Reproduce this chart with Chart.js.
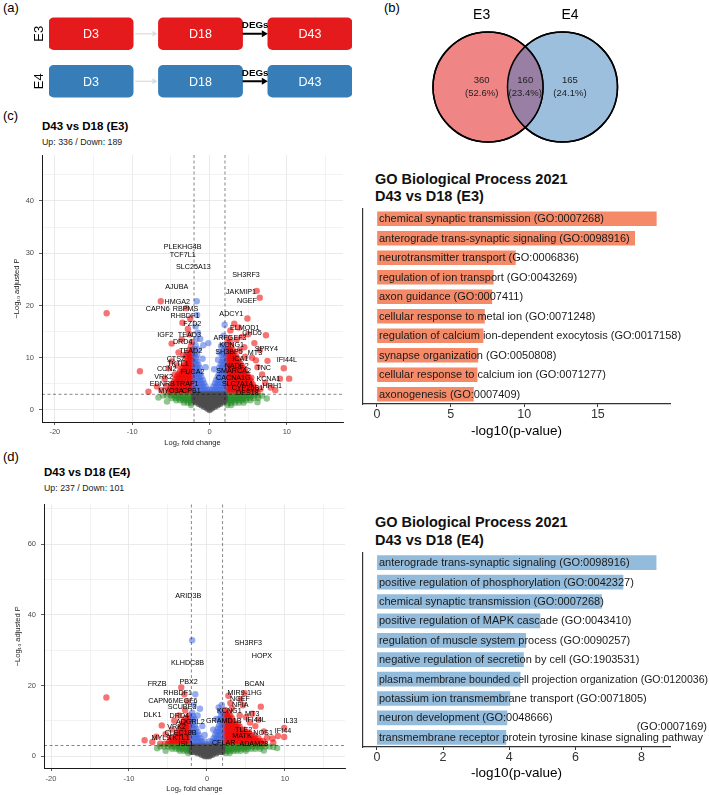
<!DOCTYPE html>
<html>
<head>
<meta charset="utf-8">
<script src="https://cdn.jsdelivr.net/npm/chart.js@4.4.1/dist/chart.umd.min.js"></script>
<style>
  body { margin: 0; background: #fff; font-family: "Liberation Sans", Arial, sans-serif; }
  #page { position: relative; width: 709px; height: 795px; overflow: hidden; }
  canvas { position: absolute; }
  .t { position: absolute; white-space: nowrap; color: #000; }
</style>
</head>
<body>
<div id="page">
  <div class="t" style="left:3px;top:0px;font-size:13px;line-height:16px">(a)</div>
  <div class="t" style="left:384px;top:0px;font-size:13px;line-height:16px">(b)</div>
  <div class="t" style="left:3px;top:108px;font-size:13px;line-height:16px">(c)</div>
  <div class="t" style="left:3px;top:449px;font-size:13px;line-height:16px">(d)</div>

  <div class="t" id="titleC" style="left:42px;top:119px;font-size:11.5px;line-height:14px;font-weight:bold"></div>
  <div class="t" id="subC" style="left:42px;top:135.5px;font-size:8.8px;line-height:12px;color:#222"></div>
  <div class="t" id="titleD" style="left:44px;top:465px;font-size:11.5px;line-height:14px;font-weight:bold"></div>
  <div class="t" id="subD" style="left:44px;top:482px;font-size:8.8px;line-height:12px;color:#222"></div>

  <div class="t" style="left:375px;top:170.5px;font-size:14.5px;line-height:17px;font-weight:bold;color:#111">GO Biological Process 2021<br>D43 vs D18 (E3)</div>
  <div class="t" style="left:375px;top:513px;font-size:14.5px;line-height:18px;font-weight:bold;color:#111">GO Biological Process 2021<br>D43 vs D18 (E4)</div>

  <canvas id="flow" width="400" height="110" style="left:0;top:0"></canvas>
  <canvas id="venn" width="309" height="150" style="left:400px;top:0"></canvas>
  <canvas id="volC" width="360" height="310" style="left:0;top:140px"></canvas>
  <canvas id="goC" width="349" height="240" style="left:360px;top:205px"></canvas>
  <canvas id="volD" width="360" height="300" style="left:0;top:495px"></canvas>
  <canvas id="goD" width="349" height="247" style="left:360px;top:548px"></canvas>
</div>

<script>
const FONT = '"Liberation Sans", Arial, sans-serif';

// (a) design
const lineNames = ['E3', 'E4'];
const stageNames = ['D3', 'D18', 'D43'];
const stageSpans = [[0, 1], [1.3, 2.3], [2.6, 3.6]];
const lineColors = ['#E41A1C', '#377EB8'];

// (b) overlap of DEGs
const vennSets = ['E3', 'E4'];
const vennCounts = [360, 160, 165];
const vennPercents = ['52.6%', '23.4%', '24.1%'];

// volcano cut-offs
const fcCut = 2;
const padjCut = 3;

// (c) D43 vs D18 (E3)  -- points are [log2FC, -log10 padj]
const upDownC = [336, 189];
const nsC = [[0,0],[-0.3,0.3],[0,0.3],[0.3,0.3],[0,0.6],[-0.35,0.6],[0.35,0.6],[-0.7,0.6],[0.7,0.6],[0,0.9],[-0.35,0.9],[0.35,0.9],[-0.7,0.9],[0.7,0.9],[-1.05,0.9],[1.05,0.9],[0,1.2],[-0.35,1.2],[0.35,1.2],[-0.7,1.2],[0.7,1.2],[-1.05,1.2],[1.05,1.2],[-1.4,1.2],[1.4,1.2],[0,1.5],[-0.35,1.5],[0.35,1.5],[-0.7,1.5],[0.7,1.5],[-1.05,1.5],[1.05,1.5],[-1.4,1.5],[1.4,1.5],[-1.75,1.5],[1.75,1.5],[0,1.8],[-0.4,1.8],[0.4,1.8],[-0.8,1.8],[0.8,1.8],[-1.2,1.8],[1.2,1.8],[-1.6,1.8],[1.6,1.8],[-1.95,1.8],[1.95,1.8],[0,2.1],[-0.4,2.1],[0.4,2.1],[-0.8,2.1],[0.8,2.1],[-1.2,2.1],[1.2,2.1],[-1.6,2.1],[1.6,2.1],[-1.95,2.1],[1.95,2.1],[0,2.4],[-0.4,2.4],[0.4,2.4],[-0.8,2.4],[0.8,2.4],[-1.2,2.4],[1.2,2.4],[-1.6,2.4],[1.6,2.4],[-1.95,2.4],[1.95,2.4],[0,2.7],[-0.4,2.7],[0.4,2.7],[-0.8,2.7],[0.8,2.7],[-1.2,2.7],[1.2,2.7],[-1.6,2.7],[1.6,2.7],[-1.95,2.7],[1.95,2.7],[-0.2,2.95],[0.2,2.95],[-0.6,2.95],[0.6,2.95],[-1,2.95],[1,2.95],[-1.4,2.95],[1.4,2.95],[-1.8,2.95],[1.8,2.95]];
const fcC = [[-2.2,2.75],[2.2,2.75],[-2.6,2.75],[2.6,2.75],[-3,2.75],[3,2.75],[-3.4,2.75],[3.4,2.75],[-3.8,2.75],[3.8,2.75],[-4.2,2.75],[4.2,2.75],[-4.6,2.75],[4.6,2.75],[-5,2.75],[5,2.75],[-5.5,2.75],[-6,2.75],[5.4,2.75],[5.8,2.75],[6.3,2.75],[6.8,2.75],[-2.4,2.3],[2.4,2.3],[-2.8,2.3],[2.8,2.3],[-3.2,2.3],[3.2,2.3],[-3.6,2.3],[3.6,2.3],[-4,2.3],[4,2.3],[-4.4,2.3],[4.4,2.3],[-4.9,2.3],[4.8,2.3],[5.2,2.3],[5.7,2.3],[6.3,2.3],[-2.2,1.85],[2.2,1.85],[-2.6,1.85],[2.6,1.85],[-3,1.85],[3,1.85],[-3.4,1.85],[3.4,1.85],[-3.8,1.85],[3.8,1.85],[-4.3,1.85],[4.2,1.85],[4.7,1.85],[5.3,1.85],[-2.4,1.4],[2.4,1.4],[-2.8,1.4],[2.8,1.4],[-3.3,1.4],[3.3,1.4],[3.8,1.4],[4.4,1.4],[2.3,0.95],[2.8,0.95],[-2.4,0.95],[-6.6,2.4],[7.4,2.2],[-5.5,1.6],[6.2,1.5]];
const pC = [[-1.9,3.3],[-1.55,3.3],[-1.2,3.3],[-0.85,3.3],[-0.5,3.3],[-0.15,3.3],[0.2,3.3],[0.55,3.3],[0.9,3.3],[1.25,3.3],[1.6,3.3],[1.9,3.3],[-1.75,3.9],[-1.4,3.9],[-1.05,3.9],[-0.7,3.9],[-0.35,3.9],[0,3.9],[0.35,3.9],[0.7,3.9],[1.05,3.9],[1.4,3.9],[1.75,3.9],[-1.9,4.5],[-1.55,4.5],[-1.2,4.5],[-0.85,4.5],[-0.5,4.5],[0.5,4.5],[0.85,4.5],[1.2,4.5],[1.55,4.5],[1.9,4.5],[-1.75,5.1],[-1.4,5.1],[-1.05,5.1],[-0.7,5.1],[0.7,5.1],[1.05,5.1],[1.4,5.1],[1.75,5.1],[-1.9,5.7],[-1.55,5.7],[-1.2,5.7],[-0.85,5.7],[0.85,5.7],[1.2,5.7],[1.55,5.7],[1.9,5.7],[-1.75,6.3],[-1.4,6.3],[-1.05,6.3],[1.05,6.3],[1.4,6.3],[1.75,6.3],[-1.9,6.9],[-1.55,6.9],[-1.2,6.9],[1.2,6.9],[1.55,6.9],[1.9,6.9],[-1.75,7.5],[-1.4,7.5],[1.4,7.5],[1.75,7.5],[-1.9,8.1],[-1.55,8.1],[-1.25,8.1],[1.25,8.1],[1.55,8.1],[1.9,8.1],[-1.75,8.7],[-1.45,8.7],[1.45,8.7],[1.75,8.7],[-1.9,9.3],[-1.6,9.3],[1.6,9.3],[1.9,9.3],[-1.75,9.9],[1.75,9.9],[-1.9,10.5],[-1.6,10.5],[1.6,10.5],[1.9,10.5],[-1.8,11.1],[1.8,11.1],[-1.9,11.7],[1.9,11.7],[-1.8,12.4],[1.85,12.4],[-1.65,20.8],[-1.6,18.2],[-1.8,16],[-1.5,14.8],[-1.2,13.6],[-1.7,13.6],[-0.8,12.4],[-1.4,11.6],[-0.15,12.8],[-0.9,9.8],[-0.5,8.2],[1.95,16.3],[1.5,12.2],[1.8,14.2],[1.1,9.6],[0.6,7.8],[1.3,11]];
const bothC = [[-2.2,3.4],[-2.6,3.4],[-3,3.4],[-3.4,3.4],[-3.8,3.4],[-4.2,3.4],[-4.6,3.4],[-5,3.4],[-5.4,3.4],[-2.4,3.9],[-2.8,3.9],[-3.2,3.9],[-3.6,3.9],[-4,3.9],[-4.4,3.9],[-4.8,3.9],[-5.2,3.9],[-2.2,4.4],[-2.6,4.4],[-3,4.4],[-3.4,4.4],[-3.8,4.4],[-4.2,4.4],[-4.6,4.4],[-5,4.4],[-2.4,4.9],[-2.8,4.9],[-3.2,4.9],[-3.6,4.9],[-4,4.9],[-4.4,4.9],[-4.8,4.9],[-2.2,5.4],[-2.6,5.4],[-3,5.4],[-3.4,5.4],[-3.8,5.4],[-4.2,5.4],[-4.6,5.4],[-2.4,5.9],[-2.8,5.9],[-3.2,5.9],[-3.6,5.9],[-4,5.9],[-4.4,5.9],[-2.2,6.4],[-2.6,6.4],[-3,6.4],[-3.4,6.4],[-3.8,6.4],[-4.2,6.4],[-2.4,6.9],[-2.8,6.9],[-3.2,6.9],[-3.6,6.9],[-4,6.9],[-2.2,7.4],[-2.6,7.4],[-3,7.4],[-3.4,7.4],[-3.8,7.4],[-2.4,7.9],[-2.8,7.9],[-3.2,7.9],[-3.6,7.9],[-2.2,8.4],[-2.6,8.4],[-3,8.4],[-3.4,8.4],[-2.4,8.9],[-2.8,8.9],[-3.2,8.9],[-2.2,9.4],[-2.6,9.4],[-3,9.4],[-2.4,9.9],[-2.8,9.9],[-2.2,10.4],[-2.6,10.4],[-3,10.4],[-2.4,10.9],[-2.8,10.9],[-2.2,11.5],[-2.6,11.5],[-2.4,12.2],[-2.3,13],[2.2,3.4],[2.6,3.4],[3,3.4],[3.4,3.4],[3.8,3.4],[4.2,3.4],[4.6,3.4],[5,3.4],[5.4,3.4],[5.8,3.4],[6.2,3.4],[2.4,3.9],[2.8,3.9],[3.2,3.9],[3.6,3.9],[4,3.9],[4.4,3.9],[4.8,3.9],[5.2,3.9],[5.6,3.9],[6,3.9],[2.2,4.4],[2.6,4.4],[3,4.4],[3.4,4.4],[3.8,4.4],[4.2,4.4],[4.6,4.4],[5,4.4],[5.4,4.4],[5.8,4.4],[2.4,4.9],[2.8,4.9],[3.2,4.9],[3.6,4.9],[4,4.9],[4.4,4.9],[4.8,4.9],[5.2,4.9],[5.6,4.9],[2.2,5.4],[2.6,5.4],[3,5.4],[3.4,5.4],[3.8,5.4],[4.2,5.4],[4.6,5.4],[5,5.4],[5.4,5.4],[2.4,5.9],[2.8,5.9],[3.2,5.9],[3.6,5.9],[4,5.9],[4.4,5.9],[4.8,5.9],[5.2,5.9],[2.2,6.4],[2.6,6.4],[3,6.4],[3.4,6.4],[3.8,6.4],[4.2,6.4],[4.6,6.4],[5,6.4],[2.4,6.9],[2.8,6.9],[3.2,6.9],[3.6,6.9],[4,6.9],[4.4,6.9],[4.8,6.9],[2.2,7.4],[2.6,7.4],[3,7.4],[3.4,7.4],[3.8,7.4],[4.2,7.4],[4.6,7.4],[2.4,7.9],[2.8,7.9],[3.2,7.9],[3.6,7.9],[4,7.9],[4.4,7.9],[2.2,8.4],[2.6,8.4],[3,8.4],[3.4,8.4],[3.8,8.4],[4.2,8.4],[2.4,8.9],[2.8,8.9],[3.2,8.9],[3.6,8.9],[4,8.9],[2.2,9.4],[2.6,9.4],[3,9.4],[3.4,9.4],[3.8,9.4],[2.4,9.9],[2.8,9.9],[3.2,9.9],[3.6,9.9],[2.2,10.4],[2.6,10.4],[3,10.4],[3.4,10.4],[2.4,10.9],[2.8,10.9],[3.2,10.9],[2.2,11.5],[2.6,11.5],[3,11.5],[2.4,12.2],[2.8,12.2],[2.3,13],[2.7,13],[2.5,13.8],[-13.3,18.5],[-9,7.4],[-7.9,3.5],[-6.8,4.5],[-6.3,20.8],[-4.9,12.7],[-4.9,9.3],[-3.5,16.7],[-5.8,6],[-6.2,3.8],[-4,11],[-3.6,13.5],[-2.8,15.5],[-2.5,17.5],[-3,19.5],[-5.3,8],[-4.5,6.8],[-4.2,8.5],[-5.6,4.6],[-3.4,10.5],[-2.6,14.5],[4.9,17.5],[6.1,22.8],[6.5,21.5],[7.3,14.3],[5.8,12.8],[7.5,9.4],[9.6,8],[10.3,6],[9.1,6],[8.5,3.8],[7.9,4.3],[2.7,15.2],[3.5,13.5],[4.5,12],[5.5,10],[6.2,8.2],[6.8,6.8],[7.2,5.2],[6.5,11.5],[3.2,16.5],[5,14.5],[6,9.5],[4.2,14],[3.8,15.8],[6.6,4],[5.4,6.2],[4.6,10.2],[3.9,11.5]];
const geneC = ['PLEKHG4B','TCF7L1','SLC25A13','SH3RF3','AJUBA','JAKMIP1','HMGA2','NGEF','CAPN6','RBPMS','RHBDF1','ADCY1','FZD2','ELMOD1','CHD5','IGF2','TEAD3','ARFGEF3','DRD4','KCNG1','SPRY4','TEAD2','SH3BP5','MT3','CTSZ','ICA1','IFI44L','TKTL1','NADE2','TNC','CCN2','FUCA2','SMARCA2','VRK2','CACNA1G','KCNA1','EDNRB','TRAF1','SLC7A14','HRH1','MYO3A','CPB1','CYP26B1','DES18'];
const geneXC = [-3.47,-3.47,-2.09,4.72,-4.24,4.07,-4.16,4.85,-6.7,-3.1,-3.17,2.82,-2.22,4.55,5.5,-5.71,-2.61,2.65,-3.47,2.87,7.35,-2.43,2.52,5.88,-4.33,3.98,10.0,-4.07,3.51,7.0,-5.54,-2.18,3.12,-5.93,3.08,7.61,-6.1,-2.9,3.6,8.12,-5.0,-2.35,4.9,4.9];
const geneYC = [31.1,29.6,27.4,25.8,23.6,22.6,20.7,20.9,19.3,19.3,18.0,18.3,16.5,15.75,14.7,14.4,14.4,13.7,13.1,12.4,11.7,11.35,11.0,10.9,9.8,9.76,9.57,8.8,8.4,8.1,7.8,7.3,7.45,6.4,6.2,5.9,4.9,4.9,4.9,4.65,3.6,3.6,4.15,3.2];

// (d) D43 vs D18 (E4)
const upDownD = [237, 101];
const nsD = [[0,0],[-0.3,0],[0.3,0],[0,0.4],[-0.35,0.4],[0.35,0.4],[-0.7,0.4],[0.7,0.4],[0,0.8],[-0.4,0.8],[0.4,0.8],[-0.8,0.8],[0.8,0.8],[-1.2,0.8],[1.2,0.8],[0,1.2],[-0.4,1.2],[0.4,1.2],[-0.8,1.2],[0.8,1.2],[-1.2,1.2],[1.2,1.2],[-1.6,1.2],[1.6,1.2],[-1.95,1.2],[1.95,1.2],[0,1.7],[-0.4,1.7],[0.4,1.7],[-0.8,1.7],[0.8,1.7],[-1.2,1.7],[1.2,1.7],[-1.6,1.7],[1.6,1.7],[-1.95,1.7],[1.95,1.7],[0,2.2],[-0.4,2.2],[0.4,2.2],[-0.8,2.2],[0.8,2.2],[-1.2,2.2],[1.2,2.2],[-1.6,2.2],[1.6,2.2],[-1.95,2.2],[1.95,2.2],[0,2.7],[-0.4,2.7],[0.4,2.7],[-0.8,2.7],[0.8,2.7],[-1.2,2.7],[1.2,2.7],[-1.6,2.7],[1.6,2.7],[-1.95,2.7],[1.95,2.7]];
const fcD = [[-2.2,2.7],[2.2,2.7],[-2.6,2.7],[2.6,2.7],[-3,2.7],[3,2.7],[-3.4,2.7],[3.4,2.7],[-3.8,2.7],[3.8,2.7],[-4.2,2.7],[4.2,2.7],[-4.6,2.7],[4.6,2.7],[-5,2.7],[5,2.7],[-5.5,2.7],[-6,2.7],[5.4,2.7],[5.8,2.7],[6.2,2.7],[6.6,2.7],[7,2.7],[7.5,2.7],[8,2.7],[-2.4,2.1],[2.4,2.1],[-2.8,2.1],[2.8,2.1],[-3.2,2.1],[3.2,2.1],[-3.6,2.1],[3.6,2.1],[-4,2.1],[4,2.1],[-4.5,2.1],[4.4,2.1],[4.8,2.1],[5.2,2.1],[5.7,2.1],[6.2,2.1],[6.8,2.1],[-2.2,1.5],[2.2,1.5],[-2.6,1.5],[2.6,1.5],[-3,1.5],[3,1.5],[-3.5,1.5],[3.4,1.5],[3.8,1.5],[4.3,1.5],[5,1.5],[-2.4,0.9],[2.4,0.9],[2.9,0.9],[-6.4,2.2],[8.5,2.6],[7.3,1.6],[-5.3,1.5],[9,2.3]];
const pD = [[-1.9,3.3],[-1.55,3.3],[-1.2,3.3],[-0.85,3.3],[-0.5,3.3],[-0.15,3.3],[0.2,3.3],[0.55,3.3],[0.9,3.3],[1.25,3.3],[1.6,3.3],[1.9,3.3],[-1.75,4.2],[-1.4,4.2],[-1.05,4.2],[-0.7,4.2],[-0.35,4.2],[0.35,4.2],[0.7,4.2],[1.05,4.2],[1.4,4.2],[1.75,4.2],[-1.9,5.1],[-1.55,5.1],[-1.2,5.1],[-0.85,5.1],[0.85,5.1],[1.2,5.1],[1.55,5.1],[1.9,5.1],[-1.75,6],[-1.4,6],[-1.05,6],[1.05,6],[1.4,6],[1.75,6],[-1.9,6.9],[-1.55,6.9],[-1.2,6.9],[1.2,6.9],[1.55,6.9],[1.9,6.9],[-1.75,7.8],[-1.4,7.8],[1.4,7.8],[1.75,7.8],[-1.9,8.7],[-1.55,8.7],[1.55,8.7],[1.9,8.7],[-1.75,9.6],[1.75,9.6],[-1.9,10.5],[-1.6,10.5],[1.6,10.5],[1.9,10.5],[-1.8,11.4],[1.8,11.4],[-1.9,12.3],[1.9,12.3],[-1.9,32.8],[-0.9,13.4],[1.7,12.8],[-1.5,17.5],[-1.7,14.5],[1.5,13.8],[-0.6,8.5],[1.2,10.5],[0.8,7.5],[-1.2,11.5],[1.9,14.5],[-0.3,6]];
const bothD = [[-2.2,3.5],[-2.6,3.5],[-3,3.5],[-3.4,3.5],[-3.8,3.5],[-4.2,3.5],[-4.6,3.5],[-5,3.5],[-5.4,3.5],[-2.4,4.3],[-2.8,4.3],[-3.2,4.3],[-3.6,4.3],[-4,4.3],[-4.4,4.3],[-4.8,4.3],[-2.2,5.1],[-2.6,5.1],[-3,5.1],[-3.4,5.1],[-3.8,5.1],[-4.2,5.1],[-4.6,5.1],[-2.4,5.9],[-2.8,5.9],[-3.2,5.9],[-3.6,5.9],[-4,5.9],[-2.2,6.7],[-2.6,6.7],[-3,6.7],[-3.4,6.7],[-3.8,6.7],[-2.4,7.5],[-2.8,7.5],[-3.2,7.5],[-3.6,7.5],[-2.2,8.3],[-2.6,8.3],[-3,8.3],[-3.4,8.3],[-2.4,9.1],[-2.8,9.1],[-3.2,9.1],[-2.2,9.9],[-2.6,9.9],[-3,9.9],[-2.4,10.7],[-2.8,10.7],[-2.3,11.5],[2.2,3.5],[2.6,3.5],[3,3.5],[3.4,3.5],[3.8,3.5],[4.2,3.5],[4.6,3.5],[5,3.5],[5.4,3.5],[5.8,3.5],[6.2,3.5],[6.6,3.5],[7,3.5],[7.4,3.5],[2.4,4.3],[2.8,4.3],[3.2,4.3],[3.6,4.3],[4,4.3],[4.4,4.3],[4.8,4.3],[5.2,4.3],[5.6,4.3],[6,4.3],[6.4,4.3],[6.8,4.3],[7.2,4.3],[2.2,5.1],[2.6,5.1],[3,5.1],[3.4,5.1],[3.8,5.1],[4.2,5.1],[4.6,5.1],[5,5.1],[5.4,5.1],[5.8,5.1],[6.2,5.1],[6.6,5.1],[2.4,5.9],[2.8,5.9],[3.2,5.9],[3.6,5.9],[4,5.9],[4.4,5.9],[4.8,5.9],[5.2,5.9],[5.6,5.9],[6,5.9],[2.2,6.7],[2.6,6.7],[3,6.7],[3.4,6.7],[3.8,6.7],[4.2,6.7],[4.6,6.7],[5,6.7],[5.4,6.7],[2.4,7.5],[2.8,7.5],[3.2,7.5],[3.6,7.5],[4,7.5],[4.4,7.5],[4.8,7.5],[2.2,8.3],[2.6,8.3],[3,8.3],[3.4,8.3],[3.8,8.3],[4.2,8.3],[2.4,9.1],[2.8,9.1],[3.2,9.1],[3.6,9.1],[4,9.1],[2.2,9.9],[2.6,9.9],[3,9.9],[3.4,9.9],[2.4,10.7],[2.8,10.7],[3.2,10.7],[2.2,11.5],[2.6,11.5],[3,11.5],[2.4,12.3],[2.8,12.3],[2.3,13.1],[-12.9,16.6],[-8,4.5],[-5.8,8.7],[-3.3,19.4],[-7,4],[-6.5,5.5],[-4.5,7.5],[-3.6,11.5],[-2.8,13],[-2.5,15.5],[-4.2,10],[-5.3,6.2],[-6,3.5],[-2.9,17.5],[6.9,14],[2.75,17.1],[9.9,8],[9.9,5.4],[9.1,5.7],[8.4,5],[7.7,5.2],[4.8,17.8],[4.3,16.1],[4.6,14.4],[3.2,13.5],[5.8,12],[6.6,10.3],[7.3,7],[5.5,9.5],[8.5,3.8],[3,15],[6.2,8.5],[4.2,11.5],[5,11]];
const geneD = ['ARID3B','SH3RF3','HOPX','KLHDC8B','FRZB','PBX2','BCAN','RHBDF1','MIR9-1HG','CAPN6','MEGF6','NGEF','SCUBE3','NFIA','KCNG1','DLK1','DRD4','MT3','IFI44L','IL33','ADGRL2','GRAMD1B','VRK2','TLE2','IFI44','CLEC18B','NOS1','MATK','MYL9','TKTL1','ISL1','CFLAR','ADAM28'];
const geneXD = [-2.4,5.3,7.05,-2.5,-6.4,-2.35,6.1,-3.76,4.83,-6.0,-2.8,4.23,-3.2,4.27,2.86,-7.0,-3.55,5.8,6.24,10.7,-2.14,2.14,-3.9,4.7,9.75,-3.4,7.2,4.5,-5.9,-3.6,-2.7,2.14,6.0];
const geneYD = [45.4,32.0,28.3,26.4,20.4,21.0,20.4,17.8,17.8,15.7,15.7,16.2,13.8,14.5,12.9,11.7,11.3,12.0,10.3,9.8,9.6,9.8,8.2,7.5,7.1,6.6,6.6,5.7,5.1,5.1,3.4,3.7,3.4];

// GO enrichment
const goTermsC = ['chemical synaptic transmission (GO:0007268)','anterograde trans-synaptic signaling (GO:0098916)','neurotransmitter transport (GO:0006836)','regulation of ion transport (GO:0043269)','axon guidance (GO:0007411)','cellular response to metal ion (GO:0071248)','regulation of calcium ion-dependent exocytosis (GO:0017158)','synapse organization (GO:0050808)','cellular response to calcium ion (GO:0071277)','axonogenesis (GO:0007409)'];
const goValuesC = [18.97, 17.5, 9.4, 7.9, 7.8, 7.3, 7.2, 6.85, 6.8, 6.55];
const goTermsD = ['anterograde trans-synaptic signaling (GO:0098916)','positive regulation of phosphorylation (GO:0042327)','chemical synaptic transmission (GO:0007268)','positive regulation of MAPK cascade (GO:0043410)','regulation of muscle system process (GO:0090257)','negative regulation of secretion by cell (GO:1903531)','plasma membrane bounded cell projection organization (GO:0120036)','potassium ion transmembrane transport (GO:0071805)','neuron development (GO:0048666)','transmembrane receptor protein tyrosine kinase signaling pathway (GO:0007169)'];
const goValuesD = [8.44, 7.44, 6.79, 4.93, 4.5, 4.43, 4.33, 4.02, 3.93, 3.9];

document.getElementById('titleC').textContent = 'D43 vs D18 (E3)';
document.getElementById('subC').textContent = 'Up: ' + upDownC[0] + ' / Down: ' + upDownC[1];
document.getElementById('titleD').textContent = 'D43 vs D18 (E4)';
document.getElementById('subD').textContent = 'Up: ' + upDownD[0] + ' / Down: ' + upDownD[1];

function arrow(ctx, x0, x1, y, color, w, head) {
  ctx.save();
  ctx.strokeStyle = color; ctx.fillStyle = color; ctx.lineWidth = w;
  ctx.beginPath(); ctx.moveTo(x0, y); ctx.lineTo(x1 - head, y); ctx.stroke();
  ctx.beginPath(); ctx.moveTo(x1, y); ctx.lineTo(x1 - head, y - head * 0.6); ctx.lineTo(x1 - head, y + head * 0.6);
  ctx.closePath(); ctx.fill();
  ctx.restore();
}

// ---- (a)
const flowText = {
  id: 'flowText',
  afterDatasetsDraw(chart) {
    const ctx = chart.ctx;
    lineNames.forEach((ln, j) => {
      const bars = stageNames.map((s, i) => chart.getDatasetMeta(i).data[j]);
      const y = bars[0].y;
      ctx.save();
      ctx.textAlign = 'center'; ctx.textBaseline = 'middle';
      ctx.fillStyle = '#fff'; ctx.font = '12.5px ' + FONT;
      bars.forEach((b, i) => ctx.fillText(stageNames[i], (b.x + b.base) / 2, y + 1));
      arrow(ctx, bars[0].x + 2, bars[1].base - 1, y, '#DCDCDC', 1.2, 5);
      arrow(ctx, bars[1].x, bars[2].base, y, '#000', 2, 6);
      ctx.fillStyle = '#000'; ctx.font = 'bold 9.8px ' + FONT;
      ctx.fillText('DEGs', (bars[1].x + bars[2].base) / 2, y - 8);
      ctx.font = '13px ' + FONT;
      ctx.translate(39, y); ctx.rotate(-Math.PI / 2);
      ctx.fillText(ln, 0, 0);
      ctx.restore();
    });
  }
};
new Chart(document.getElementById('flow'), {
  type: 'bar',
  data: {
    labels: lineNames,
    datasets: stageNames.map((s, i) => ({
      label: s,
      data: lineNames.map(() => stageSpans[i]),
      backgroundColor: lineColors,
      borderRadius: 5, borderSkipped: false, barThickness: 32, grouped: false
    }))
  },
  options: {
    indexAxis: 'y', responsive: false, animation: false, events: [],
    layout: { autoPadding: false, padding: { left: 49, right: 48, top: 10, bottom: 5 } },
    plugins: { legend: { display: false }, tooltip: { enabled: false } },
    scales: { x: { display: false, min: 0, max: 3.6 }, y: { display: false } }
  },
  plugins: [flowText]
});

// ---- (b)
const vennColors = ['#F08585', '#9CBFDE'];
const vennOverlap = {
  id: 'vennOverlap',
  afterDatasetsDraw(chart) {
    const ctx = chart.ctx;
    const a = chart.getDatasetMeta(0).data[0], b = chart.getDatasetMeta(1).data[0];
    const ra = a.options.radius, rb = b.options.radius;
    const d = b.x - a.x;
    ctx.save();
    ctx.beginPath(); ctx.arc(a.x, a.y, ra, 0, Math.PI * 2); ctx.clip();
    ctx.beginPath(); ctx.arc(b.x, b.y, rb, 0, Math.PI * 2);
    ctx.fillStyle = '#987FA3'; ctx.fill();
    ctx.restore();
    ctx.save();
    ctx.strokeStyle = '#000'; ctx.lineWidth = 1.5;
    ctx.beginPath(); ctx.arc(a.x, a.y, ra, 0, Math.PI * 2); ctx.stroke();
    ctx.beginPath(); ctx.arc(b.x, b.y, rb, 0, Math.PI * 2); ctx.stroke();
    const xs = [a.x - 0.085 * d, (a.x + b.x) / 2, b.x + 0.1 * d];
    ctx.textAlign = 'center'; ctx.textBaseline = 'middle';
    ctx.fillStyle = '#000'; ctx.font = '14px ' + FONT;
    ctx.fillText(vennSets[0], xs[0], 15);
    ctx.fillText(vennSets[1], xs[2], 15);
    ctx.fillStyle = '#222'; ctx.font = '9.5px ' + FONT;
    vennCounts.forEach((c, i) => {
      ctx.fillText(String(c), xs[i], a.y - 7);
      ctx.fillText('(' + vennPercents[i] + ')', xs[i], a.y + 6.3);
    });
    ctx.restore();
  }
};
new Chart(document.getElementById('venn'), {
  type: 'bubble',
  data: {
    datasets: vennSets.map((s, i) => ({
      label: s, data: [{ x: i, y: 0 }], radius: 55, clip: false,
      backgroundColor: vennColors[i], borderColor: '#000', borderWidth: 1.5
    }))
  },
  options: {
    responsive: false, animation: false, events: [],
    layout: { autoPadding: false, padding: 0 },
    plugins: { legend: { display: false }, tooltip: { enabled: false } },
    scales: {
      x: { display: false, min: -1.181, max: 2.966 },
      y: { display: false, min: -0.84, max: 1.16 }
    }
  },
  plugins: [vennOverlap]
});

// ---- volcano plots
function volcanoMarks(names, xs, ys) {
  return {
    id: 'volcanoMarks',
    afterDatasetsDraw(chart) {
      const { ctx, chartArea: a, scales: { x, y } } = chart;
      ctx.save();
      ctx.strokeStyle = 'rgba(0,0,0,0.6)'; ctx.lineWidth = 0.8; ctx.setLineDash([3, 2.5]);
      [-fcCut, fcCut].forEach(v => {
        const px = x.getPixelForValue(v);
        ctx.beginPath(); ctx.moveTo(px, a.top); ctx.lineTo(px, a.bottom); ctx.stroke();
      });
      const py = y.getPixelForValue(padjCut);
      ctx.beginPath(); ctx.moveTo(a.left, py); ctx.lineTo(a.right, py); ctx.stroke();
      ctx.setLineDash([]);
      ctx.fillStyle = '#000'; ctx.font = '7.2px ' + FONT;
      ctx.textAlign = 'center'; ctx.textBaseline = 'middle';
      names.forEach((n, i) => ctx.fillText(n, x.getPixelForValue(xs[i]), y.getPixelForValue(ys[i])));
      ctx.restore();
    }
  };
}
const isMajor = (c, m) => c.tick && Math.abs(c.tick.value % m) < 1e-6;
function volcano(id, sets, names, xs, ys, o) {
  const cols = ['rgba(77,77,77,0.7)', 'rgba(34,139,34,0.5)', 'rgba(65,105,225,0.55)', 'rgba(238,0,0,0.55)'];
  return new Chart(document.getElementById(id), {
    type: 'scatter',
    data: {
      datasets: sets.map((s, i) => ({
        data: s.map(p => ({ x: p[0], y: p[1] })),
        pointBackgroundColor: cols[i], backgroundColor: cols[i],
        pointBorderWidth: 0, pointRadius: 3.2, pointHoverRadius: 3.2
      }))
    },
    options: {
      responsive: false, animation: false, events: [],
      layout: { autoPadding: false, padding: { top: o.padTop, right: o.padRight, left: 0, bottom: 0 } },
      plugins: { legend: { display: false }, tooltip: { enabled: false } },
      scales: {
        x: {
          type: 'linear', min: o.xMin, max: o.xMax,
          afterFit: s => { s.height = o.xH; },
          ticks: { stepSize: 5, includeBounds: false, autoSkip: false, maxRotation: 0, padding: o.xTickPad,
                   color: '#4d4d4d', font: { family: FONT, size: 7.5 },
                   callback: v => (v % 10 === 0 ? String(v) : '') },
          grid: { color: c => (isMajor(c, 10) ? '#E4E4E4' : '#EFEFEF'), lineWidth: 0.8, tickLength: 3,
                  tickColor: c => (isMajor(c, 10) ? '#333' : 'rgba(0,0,0,0)') },
          border: { display: true, color: '#1a1a1a', width: 1 },
          title: { display: true, text: 'Log₂ fold change', color: '#1a1a1a',
                   font: { family: FONT, size: 7.5 }, padding: { top: 0, bottom: o.xTitlePad } }
        },
        y: {
          type: 'linear', min: o.yMin, max: o.yMax,
          afterFit: s => { s.width = o.yW; },
          ticks: { stepSize: o.yStep, includeBounds: false, autoSkip: false, padding: 5,
                   color: '#4d4d4d', font: { family: FONT, size: 7.5 },
                   callback: v => (v % o.yMajor === 0 ? String(v) : '') },
          grid: { color: c => (isMajor(c, o.yMajor) ? '#E4E4E4' : '#EFEFEF'), lineWidth: 0.8, tickLength: 3,
                  tickColor: c => (isMajor(c, o.yMajor) ? '#333' : 'rgba(0,0,0,0)') },
          border: { display: true, color: '#1a1a1a', width: 1 },
          title: { display: true, text: '−Log₁₀ adjusted P', color: '#1a1a1a',
                   font: { family: FONT, size: 7.5 }, padding: { top: o.yTitlePad, bottom: 0 } }
        }
      }
    },
    plugins: [volcanoMarks(names, xs, ys)]
  });
}

volcano('volC', [nsC, fcC, pC, bothC], geneC, geneXC, geneYC, {
  padTop: 15, padRight: 17, xH: 28, yW: 42, xMin: -21.66, xMax: 17.26, yMin: -2.3, yMax: 48.8,
  yStep: 5, yMajor: 10, xTickPad: 2.5, xTitlePad: 2.5, yTitlePad: 12.5
});
volcano('volD', [nsD, fcD, pD, bothD], geneD, geneXD, geneYD, {
  padTop: 7, padRight: 15, xH: 27, yW: 44, xMin: -20.9, xMax: 17.7, yMin: -3.36, yMax: 71.2,
  yStep: 10, yMajor: 20, xTickPad: 3.5, xTitlePad: 1.5, yTitlePad: 13.5
});

// ---- GO bar charts
const goLabels = {
  id: 'goLabels',
  afterDatasetsDraw(chart) {
    const { ctx, scales: { x } } = chart;
    const meta = chart.getDatasetMeta(0);
    const x0 = x.getPixelForValue(0) + 2;
    const room = chart.width - x0 - 1;
    ctx.save();
    ctx.font = '11px ' + FONT; ctx.fillStyle = '#1a1a1a'; ctx.textBaseline = 'middle';
    chart.data.labels.forEach((t, i) => {
      const y = meta.data[i].y;
      if (ctx.measureText(t).width > room + 30) {
        const k = t.lastIndexOf(' (');
        ctx.textAlign = 'left'; ctx.fillText(t.slice(0, k), x0, y + 0.5, room);
        ctx.textAlign = 'right'; ctx.fillText(t.slice(k + 1), chart.width - 2, y - 10);
      } else {
        ctx.textAlign = 'left'; ctx.fillText(t, x0, y + 0.5, room);
      }
    });
    ctx.restore();
  }
};
function goChart(id, terms, vals, color, o) {
  return new Chart(document.getElementById(id), {
    type: 'bar',
    data: { labels: terms, datasets: [{ data: vals, backgroundColor: color, barThickness: 14, borderWidth: 0 }] },
    options: {
      indexAxis: 'y', responsive: false, animation: false, events: [],
      layout: { autoPadding: false, padding: { top: o.padTop, right: 39, left: 0, bottom: 0 } },
      plugins: { legend: { display: false }, tooltip: { enabled: false } },
      scales: {
        x: {
          min: o.xMin, max: o.xMax,
          afterFit: s => { s.height = o.xH; },
          ticks: { stepSize: o.step, includeBounds: false, padding: 0, color: '#333', font: { family: FONT, size: 12.5 } },
          grid: { drawOnChartArea: false, tickLength: 3, tickColor: '#333' },
          border: { display: true, color: '#333', width: 1.2 },
          title: { display: true, text: '-log10(p-value)', color: '#000',
                   font: { family: FONT, size: 13.5 }, padding: { top: 0, bottom: o.titlePad } }
        },
        y: {
          afterFit: s => { s.width = 3; },
          ticks: { display: false },
          grid: { drawOnChartArea: false, drawTicks: false },
          border: { display: true, color: '#333', width: 1.2 }
        }
      }
    },
    plugins: [goLabels]
  });
}
goChart('goC', goTermsC, goValuesC, '#F58A68', { padTop: 4, xH: 41, xMin: -0.95, xMax: 19.9, step: 5, titlePad: 5.2 });
goChart('goD', goTermsD, goValuesD, '#93BBDC', { padTop: 5, xH: 48, xMin: -0.42, xMax: 8.86, step: 2, titlePad: 13.9 });
</script>
</body>
</html>
